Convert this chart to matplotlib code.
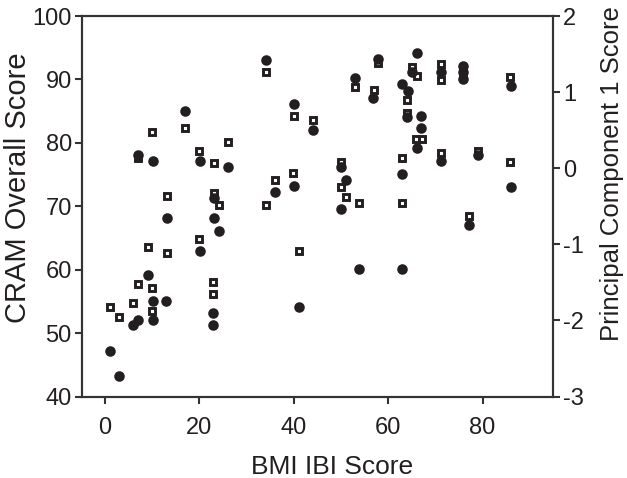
import matplotlib
matplotlib.use("Agg")
import matplotlib.pyplot as plt

plt.rcParams['font.family'] = ['Liberation Sans', 'DejaVu Sans']
plt.rcParams['axes.unicode_minus'] = False

# CRAM Overall Score (filled circles, left axis)
cram_x = [1.1, 3.0, 6.0, 7.0, 9.0, 10.1, 10.1, 13.0, 22.9, 22.9,
          7.0, 10.1, 20.1, 26.1, 13.1, 23.0, 24.1, 20.1, 23.0, 34.0,
          16.9, 36.0, 57.9, 53.0, 56.8, 40.0, 44.0, 49.9, 51.1, 49.9,
          40.0, 41.0, 53.9, 63.0, 77.1, 86.0, 66.0, 65.0, 71.1, 75.9,
          75.9, 75.9, 63.0, 64.1, 63.9, 66.9, 66.9, 66.0, 71.1, 79.0,
          86.0, 62.9]
cram_y = [47.2, 43.2, 51.2, 52.1, 59.2, 55.1, 52.0, 55.1, 53.2, 51.2,
          78.1, 77.1, 77.1, 76.2, 68.1, 68.1, 66.1, 63.0, 71.3, 93.1,
          85.1, 72.2, 93.2, 90.2, 87.0, 86.1, 82.0, 76.2, 74.2, 69.5,
          73.2, 54.1, 60.1, 60.1, 67.1, 73.1, 94.1, 91.2, 91.2, 92.1,
          91.1, 90.0, 89.3, 88.1, 84.0, 84.3, 82.3, 79.2, 77.1, 78.1,
          89.0, 75.1]

# Principal Component 1 Score (open squares, right axis)
pc_x = [1.1, 3.0, 5.9, 7.0, 10.0, 10.0, 22.9, 22.9, 10.0, 17.0,
        26.1, 20.0, 23.0, 13.1, 23.0, 24.1, 20.0, 9.0, 13.1, 7.0,
        34.0, 36.0, 40.0, 44.0, 53.0, 56.9, 57.9, 49.9, 49.9, 51.1,
        39.9, 34.1, 53.9, 63.0, 41.0, 77.1, 65.0, 66.0, 71.1, 71.1,
        63.9, 63.9, 65.8, 67.2, 71.1, 79.0, 85.9, 85.9, 62.9, 75.9]
pc_y = [-1.82, -1.95, -1.77, -1.52, -1.58, -1.88, -1.49, -1.65, 0.47, 0.53,
        0.35, 0.22, 0.07, -0.37, -0.32, -0.49, -0.93, -1.04, -1.11, 0.14,
        1.27, -0.16, 0.69, 0.63, 1.07, 1.03, 1.38, 0.08, -0.25, -0.38,
        -0.06, -0.49, -0.46, -0.46, -1.09, -0.63, 1.33, 1.21, 1.37, 1.16,
        0.89, 0.73, 0.39, 0.39, 0.20, 0.23, 1.20, 0.08, 0.13, 1.27]

x_ticks = [0, 20, 40, 60, 80]
left_ticks = [40, 50, 60, 70, 80, 90, 100]
right_ticks = [-3, -2, -1, 0, 1, 2]

ink = '#231f20'

fig = plt.figure(figsize=(6.27, 4.78), dpi=100)
ax1 = fig.add_axes([0.130, 0.1705, 0.7525, 0.796])
ax2 = ax1.twinx()
ax1.set_zorder(ax2.get_zorder() + 1)
ax1.patch.set_visible(False)

ax2.plot(pc_x, pc_y, linestyle='none', marker='s', markersize=4.4,
         markerfacecolor='white', markeredgecolor=ink, markeredgewidth=2.1)
ax1.plot(cram_x, cram_y, linestyle='none', marker='o', markersize=7.6,
         markerfacecolor=ink, markeredgecolor=ink, markeredgewidth=0)

ax1.set_xlim(-5, 95)
ax1.set_ylim(40, 100)
ax2.set_ylim(-3, 2)
ax1.set_xticks(x_ticks)
ax1.set_yticks(left_ticks)
ax2.set_yticks(right_ticks)

for ax in (ax1, ax2):
    for s in ax.spines.values():
        s.set_linewidth(1.5)
        s.set_color('#333333')
    ax.tick_params(direction='out', length=5, width=1.5, color='#333333',
                   labelsize=17, labelcolor=ink, pad=2)
ax1.tick_params(axis='x', pad=10)

ax1.set_xlabel('BMI IBI Score', fontsize=19, color=ink, labelpad=8)
ax1.xaxis.set_label_coords(0.532, -0.155)
ax1.set_ylabel('CRAM Overall Score', fontsize=21, color=ink)
ax1.yaxis.set_label_coords(-0.105, 0.55)
ax2.set_ylabel('Principal Component 1 Score', fontsize=18.5, color=ink)
ax2.yaxis.set_label_coords(1.099, 0.585)

fig.savefig('out.png', dpi=100)
